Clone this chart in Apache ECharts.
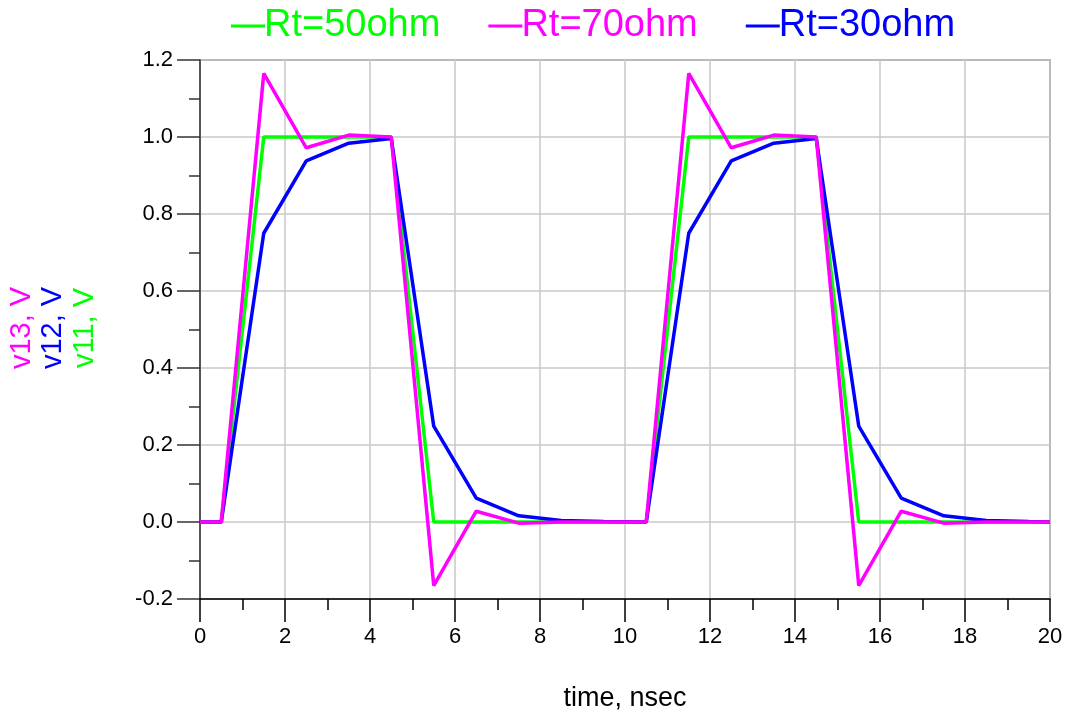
<!DOCTYPE html>
<html>
<head>
<meta charset="utf-8">
<script src="https://cdn.jsdelivr.net/npm/echarts@6/dist/echarts.min.js"></script>
<style>
  html, body { margin: 0; padding: 0; background: #fff; }
  #main { width: 1070px; height: 717px; }
</style>
</head>
<body>
<div id="main"></div>
<script>
// time axis, nsec
var time = [0, 0.5, 1.5, 2.5, 3.5, 4.5, 5.5, 6.5, 7.5, 8.5, 9.5, 10.5, 11.5, 12.5, 13.5, 14.5, 15.5, 16.5, 17.5, 18.5, 19.5, 20];
// Rt=50ohm
var v11 = [0, 0, 1, 1, 1, 1, 0, 0, 0, 0, 0, 0, 1, 1, 1, 1, 0, 0, 0, 0, 0, 0];
// Rt=70ohm
var v13 = [0, 0, 1.165, 0.972, 1.005, 1.0, -0.165, 0.028, -0.003, 0, 0, 0, 1.165, 0.972, 1.005, 1.0, -0.165, 0.028, -0.003, 0, 0, 0];
// Rt=30ohm
var v12 = [0, 0, 0.75, 0.938, 0.984, 0.996, 0.249, 0.062, 0.016, 0.004, 0.001, 0, 0.75, 0.938, 0.984, 0.996, 0.249, 0.062, 0.016, 0.004, 0.001, 0];

var seriesNames = ['Rt=50ohm', 'Rt=70ohm', 'Rt=30ohm'];
var seriesColors = ['#00ff00', '#ff00ff', '#0000ff'];

function pairs(ys) {
  var out = [];
  for (var i = 0; i < time.length; i++) out.push([time[i], ys[i]]);
  return out;
}

var font = '"Liberation Sans", Arial, sans-serif';
var chart = echarts.init(document.getElementById('main'), null, { renderer: 'canvas' });

function lineSeries(name, color, ys, z) {
  return {
    name: name,
    type: 'line',
    data: pairs(ys),
    symbol: 'none',
    z: z,
    lineStyle: { color: color, width: 3.5 },
    itemStyle: { color: color },
    animation: false
  };
}

var legendData = seriesNames.map(function (n, i) {
  return { name: n, textStyle: { color: seriesColors[i] } };
});

var option = {
  backgroundColor: '#fff',
  animation: false,
  textStyle: { fontFamily: font },
  legend: {
    top: 2,
    left: 226,
    data: legendData,
    icon: 'rect',
    itemWidth: 34,
    itemHeight: 3,
    itemGap: 48,
    textStyle: { fontSize: 38, fontFamily: font, padding: [0, 0, 0, -6] }
  },
  grid: {
    left: 200, right: 20, top: 60, bottom: 118,
    show: true, borderColor: '#6e6e6e', borderWidth: 1.5, backgroundColor: 'transparent'
  },
  xAxis: {
    type: 'value',
    min: 0, max: 20, interval: 2,
    name: 'time, nsec',
    nameLocation: 'middle',
    nameGap: 86,
    nameTextStyle: { fontSize: 27, color: '#000', fontFamily: font },
    axisLine: { onZero: false, lineStyle: { color: '#000', width: 1.5 } },
    axisTick: { inside: false, length: 23, lineStyle: { color: '#000', width: 1.5 } },
    minorTick: { show: true, splitNumber: 2, length: 11, lineStyle: { color: '#000', width: 1.5 } },
    axisLabel: { fontSize: 22, color: '#000', margin: 27, fontFamily: font },
    splitLine: { show: true, lineStyle: { color: '#c8c8c8', width: 1.5 } }
  },
  yAxis: {
    type: 'value',
    min: -0.2, max: 1.2, interval: 0.2,
    axisLine: { show: true, onZero: false, lineStyle: { color: '#333', width: 1.5 } },
    axisTick: { show: true, inside: false, length: 23, lineStyle: { color: '#333', width: 1.5 } },
    minorTick: { show: true, splitNumber: 2, length: 11, lineStyle: { color: '#333', width: 1.5 } },
    axisLabel: {
      fontSize: 22, color: '#000', margin: 27, fontFamily: font,
      formatter: function (v) { return v.toFixed(1); }
    },
    splitLine: { show: true, lineStyle: { color: '#c8c8c8', width: 1.5 } }
  },
  graphic: [
    { type: 'text', x: 22, y: 328, rotation: Math.PI / 2,
      style: { text: 'v13, V', fill: seriesColors[1], font: '29px ' + font, align: 'center', verticalAlign: 'middle' } },
    { type: 'text', x: 53, y: 328, rotation: Math.PI / 2,
      style: { text: 'v12, V', fill: seriesColors[2], font: '29px ' + font, align: 'center', verticalAlign: 'middle' } },
    { type: 'text', x: 85, y: 328, rotation: Math.PI / 2,
      style: { text: 'v11, V', fill: seriesColors[0], font: '29px ' + font, align: 'center', verticalAlign: 'middle' } }
  ],
  series: [
    lineSeries(seriesNames[0], seriesColors[0], v11, 2),
    lineSeries(seriesNames[2], seriesColors[2], v12, 3),
    lineSeries(seriesNames[1], seriesColors[1], v13, 4)
  ]
};
chart.setOption(option);
</script>
</body>
</html>
